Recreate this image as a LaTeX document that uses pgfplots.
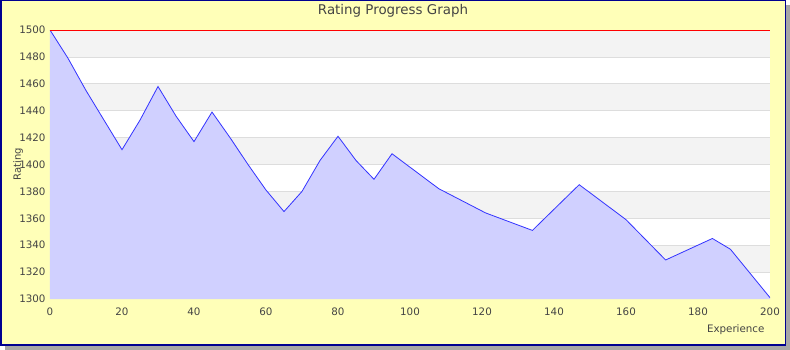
\documentclass[border=0pt]{standalone}
\usepackage{fontspec}
\setmainfont{DejaVu Sans}
\usepackage{pgfplots}
\pgfplotsset{compat=1.18}
\definecolor{bgy}{HTML}{FFFFB8}
\definecolor{frame}{HTML}{000090}
\definecolor{band}{HTML}{F3F3F3}
\definecolor{gridc}{HTML}{DDDDDD}
\definecolor{areaf}{HTML}{D0D0FF}
\definecolor{linec}{HTML}{3333FF}
\definecolor{txt}{HTML}{444444}
\pgfplotstableread{
x y
0 1500
5 1479
10 1455
15 1433
20 1411
25 1433
30 1458
35 1436
40 1417
45 1439
50 1420
55 1400
60 1381
65 1365
70 1380
75 1403
80 1421
85 1403
90 1389
95 1408
108 1382
121 1364
134 1351
147 1385
160 1359
171 1329
184 1345
189 1337
200 1301
}\ratingdata
\begin{document}
\begin{tikzpicture}
\useasboundingbox (0pt,0pt) rectangle (790pt,-350pt);
\fill[black!35] (5pt,-5pt) rectangle (790pt,-349.5pt);
\fill[bgy,draw=frame,line width=1.5pt] (0.75pt,-0.75pt) rectangle (785.5pt,-345pt);
\node[txt,font=\fontsize{13.4}{15}\selectfont] at (393pt,-11pt) {Rating Progress Graph};
\node[txt,font=\fontsize{10}{12}\selectfont,rotate=90] at (18pt,-164pt) {Rating};
\begin{axis}[
  at={(50pt,-299pt)}, anchor=south west,
  scale only axis, width=720pt, height=269pt,
  xmin=0, xmax=200, ymin=1300, ymax=1500,
  xtick={0,20,...,200}, ytick={1300,1320,...,1500},
  axis line style={draw=none},
  major tick length=0pt,
  tick label style={txt, font=\fontsize{10.3}{12}\selectfont},
  /pgf/number format/assume math mode=true,
  /pgf/number format/1000 sep={},
  xticklabel style={yshift=-5pt},
  yticklabel style={xshift=-1pt},
  xlabel={Experience},
  xlabel style={at={(axis description cs:1,0)}, anchor=north east, yshift=-22pt, xshift=-2pt, txt, font=\fontsize{10.3}{12}\selectfont},
]
\fill[white] (axis cs:0,1300) rectangle (axis cs:200,1500);
\fill[band] (axis cs:0,1320) rectangle (axis cs:200,1340);
\fill[band] (axis cs:0,1360) rectangle (axis cs:200,1380);
\fill[band] (axis cs:0,1400) rectangle (axis cs:200,1420);
\fill[band] (axis cs:0,1440) rectangle (axis cs:200,1460);
\fill[band] (axis cs:0,1480) rectangle (axis cs:200,1500);
\pgfplotsinvokeforeach{1320,1340,1360,1380,1400,1420,1440,1460,1480}{
  \draw[gridc, line width=0.8pt] (axis cs:0,#1) -- (axis cs:200,#1);
}
\addplot[draw=none, fill=areaf] table[x=x,y=y] {\ratingdata} \closedcycle;
\addplot[linec, line width=0.8pt] table[x=x,y=y] {\ratingdata};
\draw[red, line width=0.9pt] (axis cs:0,1500) -- (axis cs:200,1500);
\end{axis}
\end{tikzpicture}
\end{document}
